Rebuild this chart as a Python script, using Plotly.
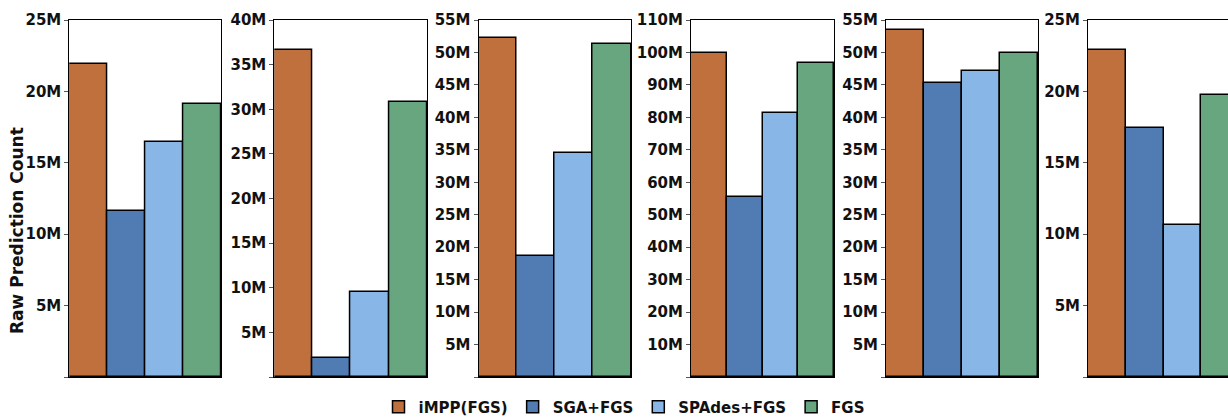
import plotly.graph_objects as go

# Raw prediction counts (millions) for the six datasets, one list per method
methods = ["iMPP(FGS)", "SGA+FGS", "SPAdes+FGS", "FGS"]
impp = [21.92, 36.64, 52.27, 99.83, 53.51, 22.88]
sga = [11.65, 2.09, 18.59, 55.46, 45.29, 17.46]
spades = [16.46, 9.56, 34.56, 81.34, 47.14, 10.67]
fgs = [19.12, 30.85, 51.25, 96.75, 49.97, 19.72]

# y-axis extent and tick step per panel (millions)
y_max = [25, 40, 55, 110, 55, 25]
y_step = [5, 5, 5, 10, 5, 5]

colors = ["#C0703C", "#517CB3", "#88B6E6", "#68A67F"]
series = [impp, sga, spades, fgs]

W, H = 1228, 419
# panel placement in pixels
panel_left = [69.3, 274.3, 478.5, 691.0, 886.0, 1088.0]
panel_right = [221.0, 427.0, 631.0, 834.0, 1038.0, 1228.0]
plot_top, plot_bottom = 20, 377

FONT = "DejaVu Sans"

fig = go.Figure()

for p in range(6):
    ax = "" if p == 0 else str(p + 1)
    for s, name in enumerate(methods):
        fig.add_trace(go.Bar(
            x=[name], y=[series[s][p]],
            name=f"<b>{name}</b>", legendgroup=name, showlegend=(p == 0),
            marker=dict(color=colors[s], line=dict(color="#000000", width=1.5)),
            xaxis="x" + ax, yaxis="y" + ax,
            hovertemplate=name + ": %{y}M<extra></extra>",
        ))

    # last panel runs past the right edge of the canvas, so its range is clipped
    dom_w = panel_right[p] - panel_left[p]
    if p == 5:
        x_range = [-0.5, -0.5 + dom_w / 37.8]
    else:
        x_range = [-0.5, 3.5]

    ticks = list(range(0, y_max[p] + 1, y_step[p]))
    ticktext = ["" if v == 0 else f"<b>{v}M</b>" for v in ticks]

    fig.layout["xaxis" + ax] = dict(
        domain=[panel_left[p] / W, panel_right[p] / W],
        anchor="y" + ax,
        type="category", categoryorder="array", categoryarray=methods,
        range=x_range, showticklabels=False, ticks="",
        showline=True, linecolor="#000000", linewidth=1, mirror=True,
        showgrid=False, zeroline=False, fixedrange=True,
    )
    fig.layout["yaxis" + ax] = dict(
        domain=[(H - plot_bottom) / H, (H - plot_top) / H],
        anchor="x" + ax,
        range=[0, y_max[p]],
        tickmode="array", tickvals=ticks, ticktext=ticktext,
        ticks="outside", ticklen=4, tickcolor="#555555", tickwidth=1,
        tickfont=dict(family=FONT, size=15, color="#111111"),
        showline=True, linecolor="#000000", linewidth=1,
        mirror=(p != 5),
        showgrid=False, zeroline=False, fixedrange=True,
    )

fig.add_annotation(
    text="<b>Raw Prediction Count</b>", textangle=-90,
    xref="paper", yref="paper", x=17 / W, y=(H - 231) / H,
    xanchor="center", yanchor="middle", showarrow=False,
    font=dict(family=FONT, size=17, color="#111111"),
)

fig.update_layout(
    width=W, height=H,
    margin=dict(l=0, r=0, t=0, b=0, autoexpand=False),
    paper_bgcolor="white", plot_bgcolor="white",
    barmode="overlay", bargap=0,
    showlegend=True,
    legend=dict(
        orientation="h", x=624 / W, y=(H - 407) / H,
        xanchor="center", yanchor="middle",
        font=dict(family=FONT, size=15, color="#111111"),
        bgcolor="rgba(0,0,0,0)", traceorder="normal",
    ),
)

fig.write_html("out.html")
